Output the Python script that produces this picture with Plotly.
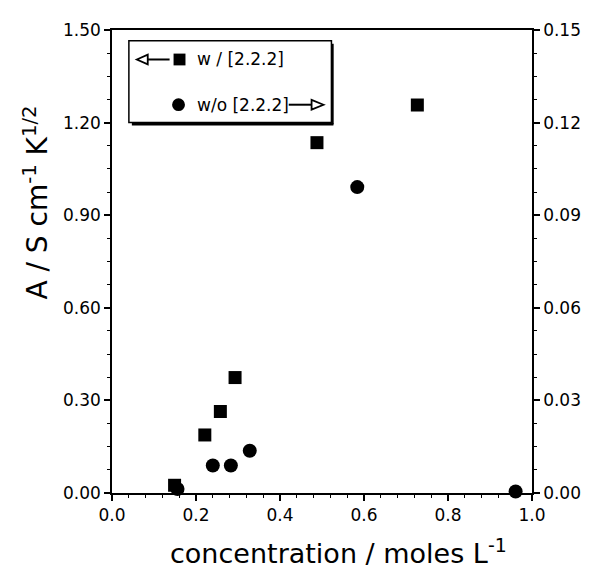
import plotly.graph_objects as go

# ---- data ----
conc_with = [0.149, 0.221, 0.258, 0.293, 0.488, 0.727]
A_with = [0.025, 0.188, 0.264, 0.374, 1.135, 1.257]
conc_without = [0.156, 0.240, 0.283, 0.328, 0.584, 0.961]
A_without = [0.0013, 0.0089, 0.0089, 0.0137, 0.0991, 0.0005]

label_with = "w / [2.2.2]"
label_without = "w/o [2.2.2]"

# page body has an 8px margin; build the figure so the plot lands where it should
OFF = 8
W, H = 593 - OFF, 576 - OFF
L, R, T, B = 112, 535, 22, 493  # plot area in page pixels


def px(xp):
    return (xp - L) / (R - L)


def py(yp):
    return (B - yp) / (B - T)


FONT = "DejaVu Sans"

fig = go.Figure()
fig.add_trace(go.Scatter(
    x=conc_with, y=A_with, mode="markers", name=label_with,
    marker=dict(symbol="square", size=13, color="black"),
    cliponaxis=False, showlegend=False))
fig.add_trace(go.Scatter(
    x=conc_without, y=A_without, mode="markers", name=label_without, yaxis="y2",
    marker=dict(symbol="circle", size=14, color="black"),
    cliponaxis=False, showlegend=False))

tickfont = dict(family=FONT, size=17, color="black")

fig.update_layout(
    width=W, height=H,
    margin=dict(l=L - OFF, r=W - (R - OFF), t=T - OFF, b=H - (B - OFF)),
    plot_bgcolor="white", paper_bgcolor="white",
    showlegend=False,
    xaxis=dict(range=[0, 1], tick0=0, dtick=0.2, tickformat=".1f",
               showgrid=False, zeroline=False,
               showline=True, linecolor="black", linewidth=2, mirror=True,
               ticks="outside", ticklen=6, tickwidth=1.5, tickcolor="black",
               minor=dict(dtick=0.04, ticks="outside", ticklen=3, tickcolor="black", tickwidth=1),
               tickfont=tickfont),
    yaxis=dict(range=[0, 1.5], tick0=0, dtick=0.3, tickformat=".2f",
               showgrid=False, zeroline=False,
               showline=True, linecolor="black", linewidth=1.5,
               ticks="outside", ticklen=6, tickwidth=1.5, tickcolor="black",
               minor=dict(dtick=0.075, ticks="outside", ticklen=3, tickcolor="black", tickwidth=1),
               tickfont=tickfont),
    yaxis2=dict(range=[0, 0.15], tick0=0, dtick=0.03, tickformat=".2f",
                overlaying="y", side="right",
                showgrid=False, zeroline=False,
                showline=True, linecolor="black", linewidth=1.5,
                ticks="outside", ticklen=6, tickwidth=1.5, tickcolor="black",
                minor=dict(dtick=0.0075, ticks="outside", ticklen=3, tickcolor="black", tickwidth=1),
                tickfont=tickfont),
)

# axis titles
fig.add_annotation(text="concentration / moles L<sup>-1</sup>",
                   xref="paper", yref="paper", x=px(340), y=py(553),
                   showarrow=False, xanchor="center", yanchor="middle",
                   font=dict(family=FONT, size=27, color="black"))
fig.add_annotation(text="A / S cm<sup>-1</sup> K<sup>1/2</sup>",
                   xref="paper", yref="paper", x=px(35), y=py(198),
                   showarrow=False, xanchor="center", yanchor="middle", textangle=-90,
                   font=dict(family=FONT, size=28, color="black"))

# legend box with shadow
shapes = []
shapes.append(dict(type="rect", xref="paper", yref="paper",
                   x0=px(129), x1=px(333), y0=py(116), y1=py(33),
                   line=dict(color="black", width=1.5), fillcolor="white"))
shapes.append(dict(type="line", xref="paper", yref="paper",
                   x0=px(334), x1=px(334), y0=py(36), y1=py(118),
                   line=dict(color="black", width=2.5)))
shapes.append(dict(type="line", xref="paper", yref="paper",
                   x0=px(132), x1=px(335), y0=py(118), y1=py(118),
                   line=dict(color="black", width=2.5)))

# row 1: left arrow, square, text
r1 = 52
shapes.append(dict(type="line", xref="paper", yref="paper",
                   x0=px(147), x1=px(170), y0=py(r1), y1=py(r1),
                   line=dict(color="black", width=2)))
shapes.append(dict(type="path", xref="paper", yref="paper",
                   path=f"M {px(137)},{py(r1)} L {px(148)},{py(r1-5)} L {px(148)},{py(r1+5)} Z",
                   line=dict(color="black", width=1.8), fillcolor="white"))
shapes.append(dict(type="rect", xref="paper", yref="paper",
                   x0=px(174), x1=px(186), y0=py(r1 + 6), y1=py(r1 - 6),
                   line=dict(color="black", width=0), fillcolor="black"))
fig.add_annotation(text=label_with, xref="paper", yref="paper",
                   x=px(196), y=py(r1), showarrow=False, xanchor="left", yanchor="middle",
                   font=dict(family=FONT, size=17, color="black"))

# row 2: circle, text, right arrow
r2 = 98
shapes.append(dict(type="circle", xref="paper", yref="paper",
                   x0=px(172.5), x1=px(185.5), y0=py(r2 + 6.5), y1=py(r2 - 6.5),
                   line=dict(color="black", width=0), fillcolor="black"))
fig.add_annotation(text=label_without, xref="paper", yref="paper",
                   x=px(196), y=py(r2), showarrow=False, xanchor="left", yanchor="middle",
                   font=dict(family=FONT, size=17, color="black"))
shapes.append(dict(type="line", xref="paper", yref="paper",
                   x0=px(290), x1=px(314), y0=py(r2), y1=py(r2),
                   line=dict(color="black", width=2)))
shapes.append(dict(type="path", xref="paper", yref="paper",
                   path=f"M {px(325)},{py(r2)} L {px(313)},{py(r2-5)} L {px(313)},{py(r2+5)} Z",
                   line=dict(color="black", width=1.8), fillcolor="white"))

fig.update_layout(shapes=shapes)

fig.write_html("out.html")
